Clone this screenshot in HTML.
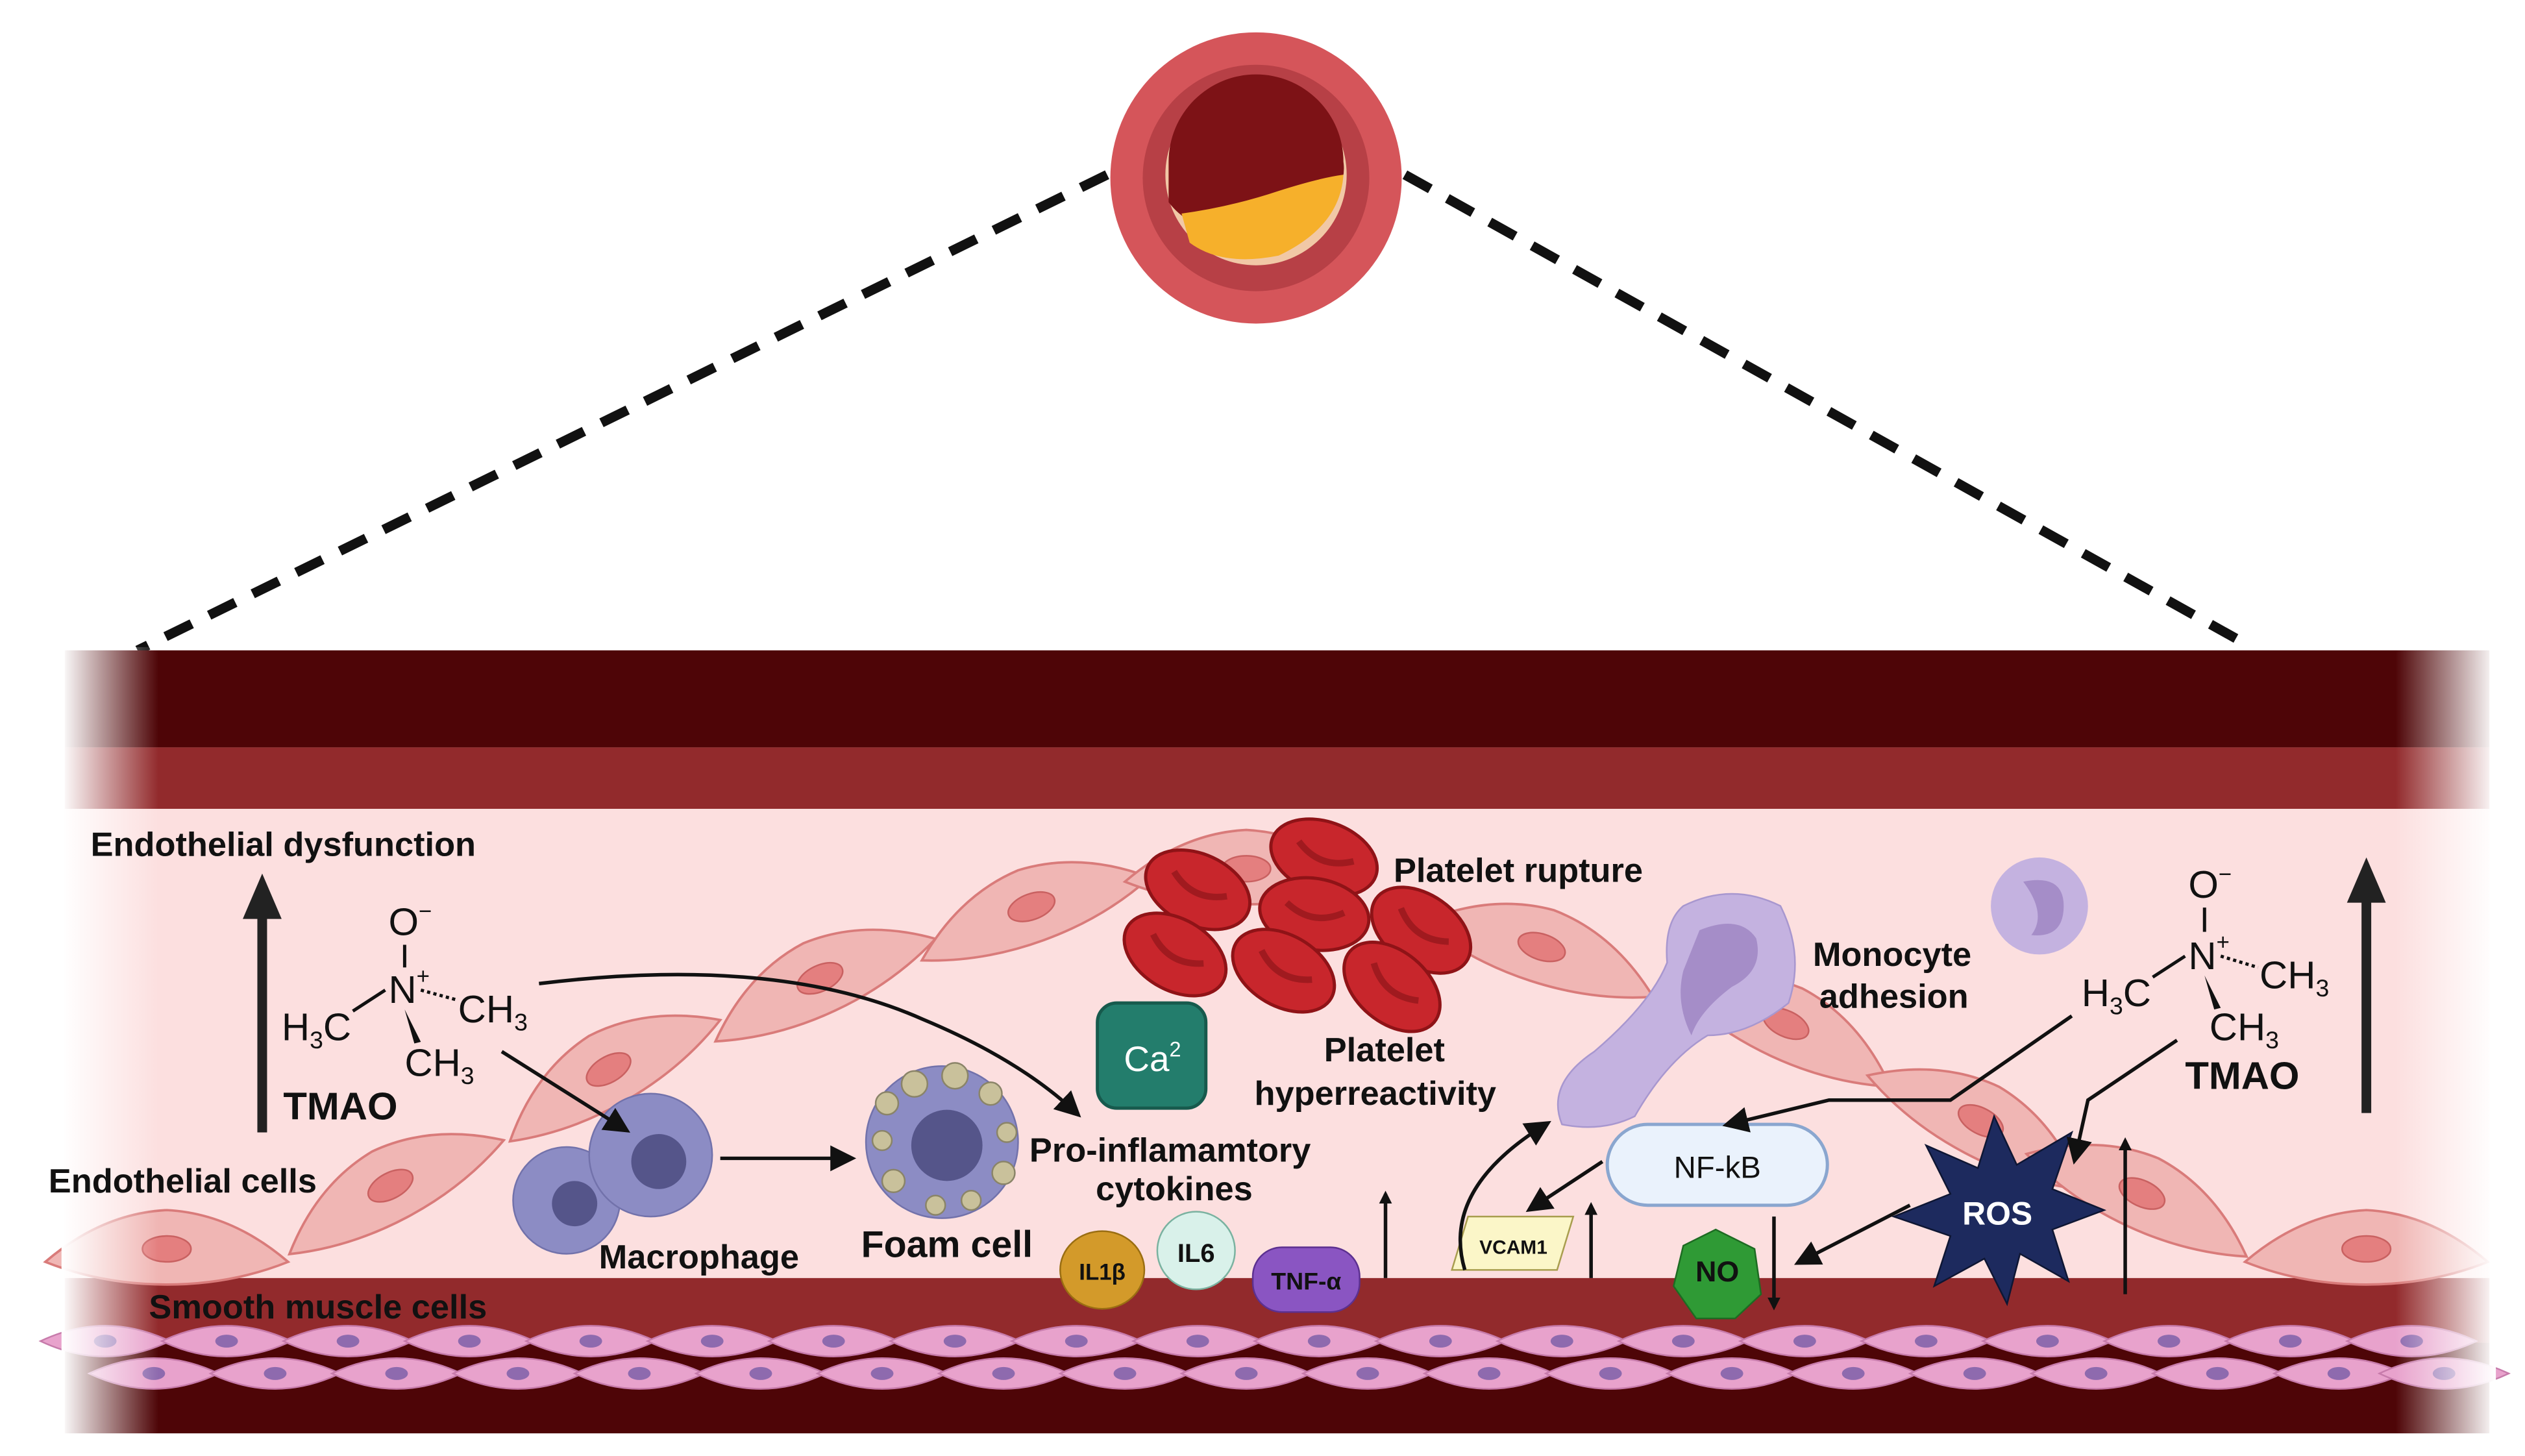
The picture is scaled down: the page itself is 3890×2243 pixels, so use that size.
<!DOCTYPE html>
<html><head><meta charset="utf-8"><style>
html,body{margin:0;padding:0;background:#fff}
svg{display:block}
text{font-family:"Liberation Sans",sans-serif;fill:#111}
</style></head><body>
<svg width="3890" height="2243" viewBox="0 0 1560 900" preserveAspectRatio="none" xmlns="http://www.w3.org/2000/svg">
<defs>
<linearGradient id="fl" x1="0" x2="1"><stop offset="0" stop-color="#fff" stop-opacity="1"/><stop offset="1" stop-color="#fff" stop-opacity="0"/></linearGradient>
<linearGradient id="fr" x1="1" x2="0"><stop offset="0" stop-color="#fff" stop-opacity="1"/><stop offset="1" stop-color="#fff" stop-opacity="0"/></linearGradient>
<marker id="ah" markerWidth="8" markerHeight="8" refX="6" refY="4" orient="auto" markerUnits="userSpaceOnUse"><path d="M0,0 L8,4 L0,8 z" fill="#111"/></marker>
<marker id="ahb" markerWidth="16" markerHeight="16" refX="12" refY="8" orient="auto" markerUnits="userSpaceOnUse"><path d="M0,0 L16,8 L0,16 z" fill="#111"/></marker>
<g id="smc"><path d="M-40,0 Q0,-19 40,0 Q0,19 -40,0 z" fill="#e8a2cc" stroke="#c77bab" stroke-width="1"/><ellipse cx="0" cy="0" rx="7" ry="4" fill="#8e6aae"/></g>
<g id="ec"><path d="M-75,0 Q-40,-30 0,-32 Q40,-30 75,0 Q40,14 0,14 Q-40,14 -75,0 z" fill="#f0b6b4" stroke="#d97b7a" stroke-width="1.5"/><ellipse cx="0" cy="-8" rx="15" ry="8" fill="#e47f7f" stroke="#c96161"/></g>
<g id="rbc"><ellipse cx="0" cy="0" rx="34" ry="22" fill="#c8262c" stroke="#8f1317" stroke-width="2"/><path d="M-18,-4 Q0,8 18,-4" stroke="#a01a1f" stroke-width="4" fill="none"/></g>
</defs>
<rect width="1560" height="900" fill="#fff"/>
<!-- top vessel -->
<circle cx="776" cy="110" r="90" fill="#d5555a"/>
<circle cx="776" cy="110" r="70" fill="#b74046"/>
<circle cx="776" cy="108" r="56" fill="#f1c8a6"/>
<path d="M722,100 A54,54 0 1 1 830,100 Q832,115 820,125 Q780,130 755,140 Q735,142 722,125 z" fill="#7d1216"/>
<path d="M730,132 Q760,128 790,118 Q815,110 830,108 Q828,140 790,158 Q755,165 735,150 z" fill="#f6b02b"/>
<!-- dashes -->
<line x1="684" y1="108" x2="85" y2="402" stroke="#111" stroke-width="6" stroke-dasharray="18,12"/>
<line x1="868" y1="108" x2="1382" y2="395" stroke="#111" stroke-width="6" stroke-dasharray="18,12"/>
<!-- bands -->
<rect x="40" y="402" width="1498" height="60" fill="#4e0507"/>
<rect x="40" y="462" width="1498" height="38" fill="#922a2c"/>
<rect x="40" y="500" width="1498" height="290" fill="#fcdfdf"/>
<rect x="40" y="790" width="1498" height="40" fill="#922a2c"/>
<rect x="40" y="830" width="1498" height="56" fill="#4e0507"/>
<!-- smooth muscle cells -->
<g>
<use href="#smc" x="65" y="829"/><use href="#smc" x="140" y="829"/><use href="#smc" x="215" y="829"/><use href="#smc" x="290" y="829"/><use href="#smc" x="365" y="829"/><use href="#smc" x="440" y="829"/><use href="#smc" x="515" y="829"/><use href="#smc" x="590" y="829"/><use href="#smc" x="665" y="829"/><use href="#smc" x="740" y="829"/><use href="#smc" x="815" y="829"/><use href="#smc" x="890" y="829"/><use href="#smc" x="965" y="829"/><use href="#smc" x="1040" y="829"/><use href="#smc" x="1115" y="829"/><use href="#smc" x="1190" y="829"/><use href="#smc" x="1265" y="829"/><use href="#smc" x="1340" y="829"/><use href="#smc" x="1415" y="829"/><use href="#smc" x="1490" y="829"/>
<use href="#smc" x="95" y="849"/><use href="#smc" x="170" y="849"/><use href="#smc" x="245" y="849"/><use href="#smc" x="320" y="849"/><use href="#smc" x="395" y="849"/><use href="#smc" x="470" y="849"/><use href="#smc" x="545" y="849"/><use href="#smc" x="620" y="849"/><use href="#smc" x="695" y="849"/><use href="#smc" x="770" y="849"/><use href="#smc" x="845" y="849"/><use href="#smc" x="920" y="849"/><use href="#smc" x="995" y="849"/><use href="#smc" x="1070" y="849"/><use href="#smc" x="1145" y="849"/><use href="#smc" x="1220" y="849"/><use href="#smc" x="1295" y="849"/><use href="#smc" x="1370" y="849"/><use href="#smc" x="1445" y="849"/><use href="#smc" x="1510" y="849"/>
</g>
<!-- endothelial cells -->
<use href="#ec" transform="translate(103,780)"/>
<use href="#ec" transform="translate(245,740) rotate(-28)"/>
<use href="#ec" transform="translate(380,668) rotate(-30)"/>
<use href="#ec" transform="translate(510,612) rotate(-25)"/>
<use href="#ec" transform="translate(640,568) rotate(-20)"/>
<use href="#ec" transform="translate(770,545) rotate(0)"/>
<use href="#ec" transform="translate(950,593) rotate(18)"/>
<use href="#ec" transform="translate(1100,640) rotate(25)"/>
<use href="#ec" transform="translate(1220,700) rotate(28)"/>
<use href="#ec" transform="translate(1320,745) rotate(25)"/>
<use href="#ec" transform="translate(1462,780)"/>
<!-- edge fades -->
<rect x="38" y="400" width="60" height="490" fill="url(#fl)"/>
<rect x="1480" y="400" width="62" height="490" fill="url(#fr)"/>
<!-- platelets -->
<use href="#rbc" transform="translate(818,530) rotate(20)"/>
<use href="#rbc" transform="translate(740,550) rotate(25)"/>
<use href="#rbc" transform="translate(812,565) rotate(10)"/>
<use href="#rbc" transform="translate(878,575) rotate(35)"/>
<use href="#rbc" transform="translate(726,590) rotate(30)"/>
<use href="#rbc" transform="translate(793,600) rotate(30)"/>
<use href="#rbc" transform="translate(860,610) rotate(40)"/>
<!-- monocyte -->
<path d="M1040,560 Q1070,545 1100,560 Q1115,590 1105,620 Q1080,640 1055,640 Q1030,655 1010,690 Q990,700 965,695 Q955,670 985,650 Q1020,620 1030,595 Q1028,570 1040,560 z" fill="#c4b2e0" stroke="#a897cf"/>
<path d="M1050,575 Q1075,565 1085,580 Q1090,600 1070,610 Q1050,625 1045,640 Q1035,620 1040,600 z" fill="#a58dc8"/>
<ellipse cx="1260" cy="560" rx="30" ry="30" fill="#c4b2e0"/>
<path d="M1250,545 Q1275,540 1275,560 Q1275,580 1255,578 Q1265,565 1250,545 z" fill="#a58dc8"/>
<!-- macrophages -->
<circle cx="350" cy="742" r="33" fill="#8c8cc4" stroke="#7272ab"/>
<circle cx="355" cy="744" r="14" fill="#55558a"/>
<circle cx="402" cy="714" r="38" fill="#8c8cc4" stroke="#7272ab"/>
<circle cx="407" cy="718" r="17" fill="#55558a"/>
<!-- foam cell -->
<circle cx="582" cy="706" r="47" fill="#8c8cc4" stroke="#7272ab"/>
<circle cx="585" cy="708" r="22" fill="#55558a"/>
<g fill="#c9c19b" stroke="#8a8468">
<circle cx="565" cy="670" r="8"/><circle cx="590" cy="665" r="8"/><circle cx="612" cy="676" r="7"/><circle cx="622" cy="700" r="6"/><circle cx="620" cy="725" r="7"/><circle cx="600" cy="742" r="6"/><circle cx="578" cy="745" r="6"/><circle cx="552" cy="730" r="7"/><circle cx="545" cy="705" r="6"/><circle cx="548" cy="682" r="7"/>
</g>
<!-- Ca2 -->
<rect x="678" y="620" width="67" height="65" rx="12" fill="#237d6c" stroke="#175a4d" stroke-width="2"/>
<text x="712" y="662" font-size="22" text-anchor="middle" style="fill:#fff">Ca<tspan font-size="13" dy="-9">2</tspan></text>
<!-- cytokines -->
<ellipse cx="681" cy="785" rx="26" ry="24" fill="#d39a2a" stroke="#9a6e12"/>
<text x="681" y="791" font-size="14" font-weight="bold" text-anchor="middle">IL1β</text>
<ellipse cx="739" cy="773" rx="24" ry="24" fill="#d9f1ea" stroke="#7ab2a0"/>
<text x="739" y="780" font-size="16" font-weight="bold" text-anchor="middle">IL6</text>
<rect x="774" y="771" width="66" height="40" rx="18" fill="#8a55c2" stroke="#5c3090"/>
<text x="807" y="797" font-size="15" font-weight="bold" text-anchor="middle">TNF-α</text>
<!-- VCAM -->
<path d="M907,752 L972,752 L962,785 L897,785 z" fill="#fbf6c8" stroke="#a89d4e"/>
<text x="935" y="775" font-size="12" font-weight="bold" text-anchor="middle">VCAM1</text>
<!-- NF-kB -->
<rect x="993" y="695" width="136" height="50" rx="25" fill="#eaf2fc" stroke="#8aa6cf" stroke-width="2"/>
<text x="1061" y="728" font-size="19" text-anchor="middle">NF-kB</text>
<!-- NO -->
<path d="M1060,760 L1084,772 L1088,800 L1072,815 L1048,815 L1034,795 L1040,770 z" fill="#2f9a35" stroke="#1d6b22"/>
<text x="1061" y="792" font-size="18" font-weight="bold" text-anchor="middle">NO</text>
<!-- ROS star -->
<path d="M1232,690 L1246,720 L1280,700 L1268,735 L1300,748 L1268,760 L1278,792 L1248,775 L1240,806 L1226,778 L1195,795 L1205,764 L1170,752 L1205,738 L1190,708 L1222,722 z" fill="#1d2a5e" stroke="#0e1633"/>
<text x="1234" y="757" font-size="20" font-weight="bold" text-anchor="middle" style="fill:#fff">ROS</text>
<!-- big arrows -->
<line x1="162" y1="700" x2="162" y2="565" stroke="#222" stroke-width="6"/>
<path d="M150,568 L162,540 L174,568 z" fill="#222"/>
<line x1="1462" y1="688" x2="1462" y2="555" stroke="#222" stroke-width="6"/>
<path d="M1450,558 L1462,530 L1474,558 z" fill="#222"/>
<!-- small arrows -->
<g stroke="#111" stroke-width="2.2" fill="none">
<path d="M333,608 Q480,590 570,630 Q630,655 665,688" marker-end="url(#ahb)"/>
<line x1="310" y1="650" x2="386" y2="698" marker-end="url(#ahb)"/>
<line x1="445" y1="716" x2="525" y2="716" marker-end="url(#ahb)"/>
<line x1="856" y1="790" x2="856" y2="738" marker-end="url(#ah)"/>
<line x1="983" y1="790" x2="983" y2="745" marker-end="url(#ah)"/>
<path d="M905,785 Q890,735 955,695" marker-end="url(#ahb)"/>
<line x1="990" y1="718" x2="946" y2="747" marker-end="url(#ahb)"/>
<path d="M1280,628 L1205,680 L1130,680 L1068,695" marker-end="url(#ahb)"/>
<path d="M1345,643 L1290,680 L1282,716" marker-end="url(#ahb)"/>
<line x1="1180" y1="745" x2="1112" y2="780" marker-end="url(#ahb)"/>
<line x1="1096" y1="752" x2="1096" y2="808" marker-end="url(#ah)"/>
<line x1="1313" y1="800" x2="1313" y2="705" marker-end="url(#ah)"/>
</g>
<!-- TMAO left -->
<g font-size="24">
<text x="240" y="578">O<tspan font-size="14" dy="-10">−</tspan></text>
<line x1="250" y1="584" x2="250" y2="598" stroke="#111" stroke-width="2"/>
<text x="240" y="620">N<tspan font-size="14" dy="-12">+</tspan></text>
<text x="174" y="643">H<tspan font-size="15" dy="5">3</tspan><tspan dy="-5">C</tspan></text>
<line x1="218" y1="625" x2="238" y2="612" stroke="#111" stroke-width="2"/>
<line x1="260" y1="612" x2="282" y2="618" stroke="#111" stroke-width="2" stroke-dasharray="2,2"/>
<text x="283" y="632">CH<tspan font-size="15" dy="5">3</tspan></text>
<path d="M250,624 L256,645 L260,644 z" fill="#111"/>
<text x="250" y="665">CH<tspan font-size="15" dy="5">3</tspan></text>
</g>
<text x="175" y="692" font-size="24" font-weight="bold">TMAO</text>
<!-- TMAO right -->
<g font-size="24">
<text x="1352" y="555">O<tspan font-size="14" dy="-10">−</tspan></text>
<line x1="1362" y1="561" x2="1362" y2="576" stroke="#111" stroke-width="2"/>
<text x="1352" y="599">N<tspan font-size="14" dy="-12">+</tspan></text>
<text x="1286" y="622">H<tspan font-size="15" dy="5">3</tspan><tspan dy="-5">C</tspan></text>
<line x1="1330" y1="604" x2="1350" y2="591" stroke="#111" stroke-width="2"/>
<line x1="1372" y1="591" x2="1395" y2="598" stroke="#111" stroke-width="2" stroke-dasharray="2,2"/>
<text x="1396" y="611">CH<tspan font-size="15" dy="5">3</tspan></text>
<path d="M1362,603 L1368,624 L1372,623 z" fill="#111"/>
<text x="1365" y="643">CH<tspan font-size="15" dy="5">3</tspan></text>
</g>
<text x="1350" y="673" font-size="24" font-weight="bold">TMAO</text>
<!-- labels -->
<g font-size="21" font-weight="bold">
<text x="56" y="529">Endothelial dysfunction</text>
<text x="861" y="545">Platelet rupture</text>
<text x="1120" y="597">Monocyte</text>
<text x="1124" y="623">adhesion</text>
<text x="818" y="656">Platelet</text>
<text x="775" y="683">hyperreactivity</text>
<text x="636" y="718">Pro-inflamamtory</text>
<text x="677" y="742">cytokines</text>
<text x="30" y="737">Endothelial cells</text>
<text x="370" y="784">Macrophage</text>
<text x="532" y="777" font-size="23">Foam cell</text>
<text x="92" y="815">Smooth muscle cells</text>
</g>
</svg>
</body></html>
